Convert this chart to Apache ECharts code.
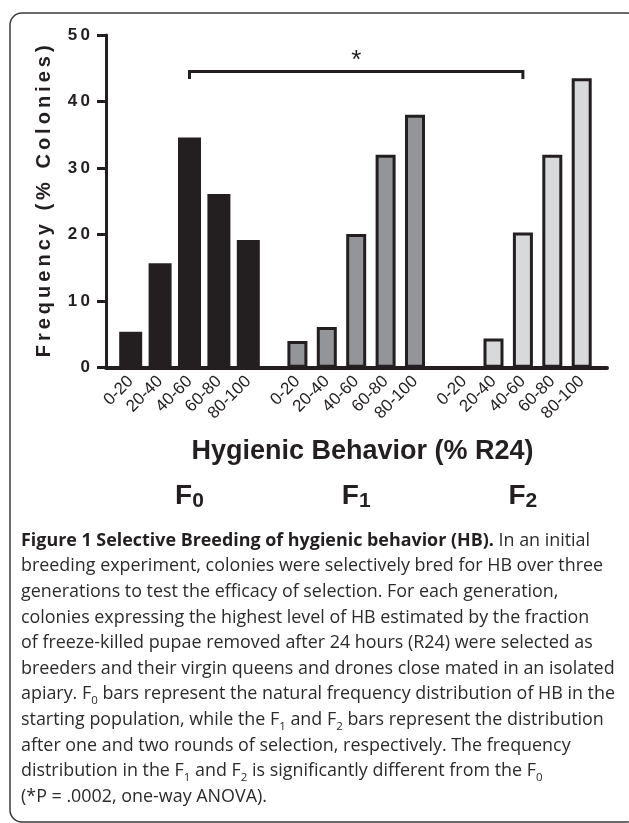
<!DOCTYPE html>
<html>
<head>
<meta charset="utf-8">
<script src="https://cdn.jsdelivr.net/npm/echarts@6/dist/echarts.min.js"></script>
<style>
html,body{margin:0;padding:0;background:#fff;overflow:hidden;}
#c{width:629px;height:823px;}
</style>
</head>
<body>
<div id="c"></div>
<script>
// ---- data ----
const categories = ['0-20', '20-40', '40-60', '60-80', '80-100'];
const generations = ['0', '1', '2'];
const f0Values = [5.4, 15.7, 34.6, 26.1, 19.2];
const f1Values = [4.0, 6.1, 20.1, 32.0, 38.0];
const f2Values = [0, 4.4, 20.3, 32.0, 43.5];
const yMin = 0, yMax = 50, yStep = 10;
const yAxisTitle = 'Frequency (% Colonies)';
const xAxisTitle = 'Hygienic Behavior (% R24)';
const bracketFrom = '40-60', bracketTo = '40-60';
const bracketLevel = 44.5, bracketFoot = 43.4;
const captionLines = [
  '{b|Figure 1 Selective Breeding of hygienic behavior (HB).} In an initial',
  'breeding experiment, colonies were selectively bred for HB over three',
  'generations to test the efficacy of selection. For each generation,',
  'colonies expressing the highest level of HB estimated by the fraction',
  'of freeze-killed pupae removed after 24 hours (R24) were selected as',
  'breeders and their virgin queens and drones close mated in an isolated',
  'apiary. F{s|0} bars represent the natural frequency distribution of HB in the',
  'starting population, while the F{s|1} and F{s|2} bars represent the distribution',
  'after one and two rounds of selection, respectively. The frequency',
  'distribution in the F{s|1} and F{s|2} is significantly different from the F{s|0}',
  '(*P = .0002, one-way ANOVA).'
];

const INK = '#231f20';
const FONT = '"Liberation Sans", Arial, sans-serif';
const CAP_FONT = '"Open Sans", "Noto Sans", sans-serif';
const spaced = s => String(s).split('').join('\u2009');

const chart = echarts.init(document.getElementById('c'), null, {renderer: 'canvas'});

const gridTop = 35, gridHeight = 332.7;
const subLefts = [116, 282.7, 449.4];
const subWidth = 147;
const seriesData = [f0Values, f1Values, f2Values];
const fills = [INK, '#939598', '#d8d9da'];

const grids = [{left: 106, top: gridTop, width: 501, height: gridHeight}];
const xAxes = [{
  gridIndex: 0, type: 'value', min: 0, max: 1,
  axisLine: {show: true, lineStyle: {color: INK, width: 4}},
  axisTick: {show: false}, axisLabel: {show: false}, splitLine: {show: false},
  name: xAxisTitle, nameLocation: 'middle', nameGap: 70,
  nameTextStyle: {fontFamily: FONT, fontWeight: 'bold', fontSize: 27, color: INK, padding: [0, 0, 0, 12]}
}];
const yAxes = [{
  gridIndex: 0, type: 'value', min: yMin, max: yMax, interval: yStep,
  axisLine: {show: true, lineStyle: {color: INK, width: 3}},
  axisTick: {show: true, inside: false, length: 9, lineStyle: {color: INK, width: 3}},
  axisLabel: {margin: 16, fontFamily: FONT, fontWeight: 'bold', fontSize: 17, color: INK,
              formatter: v => spaced(v)},
  splitLine: {show: false},
  name: spaced(yAxisTitle), nameLocation: 'middle', nameGap: 52,
  nameTextStyle: {fontFamily: FONT, fontWeight: 'bold', fontSize: 20, color: INK}
}];
const series = [];
generations.forEach((g, i) => {
  grids.push({left: subLefts[i], top: gridTop, width: subWidth, height: gridHeight});
  xAxes.push({
    gridIndex: i + 1, type: 'category', data: categories,
    axisLine: {show: false}, axisTick: {show: false},
    axisLabel: {interval: 0, rotate: 45, margin: 11, fontFamily: FONT, fontSize: 17, color: INK},
    name: '{f|F}{s|' + g + '}', nameLocation: 'middle', nameGap: 114,
    nameTextStyle: {
      rich: {
        f: {fontFamily: FONT, fontWeight: 'bold', fontSize: 28, color: INK, lineHeight: 30},
        s: {fontFamily: FONT, fontWeight: 'bold', fontSize: 21, color: INK, lineHeight: 12, verticalAlign: 'bottom'}
      }
    }
  });
  yAxes.push({gridIndex: i + 1, type: 'value', min: yMin, max: yMax, interval: yStep, show: false});
  const bordered = i > 0;
  series.push({
    type: 'bar', xAxisIndex: i + 1, yAxisIndex: i + 1,
    data: seriesData[i],
    barWidth: bordered ? 20 : 23,
    itemStyle: {color: fills[i], borderColor: INK, borderWidth: bordered ? 3 : 0},
    silent: true, animation: false
  });
});

chart.setOption({
  animation: false,
  grid: grids, xAxis: xAxes, yAxis: yAxes, series: series
});

const pA = chart.convertToPixel({xAxisIndex: 1, yAxisIndex: 1}, [categories.indexOf(bracketFrom), bracketLevel]);
const pB = chart.convertToPixel({xAxisIndex: 3, yAxisIndex: 3}, [categories.indexOf(bracketTo), bracketLevel]);
const footY = chart.convertToPixel({yAxisIndex: 1}, bracketFoot);

chart.setOption({
  graphic: [
    {type: 'rect', id: 'frame', shape: {x: 10, y: 13, width: 629, height: 809, r: 12},
     style: {fill: 'none', stroke: '#3a3a3a', lineWidth: 1.5}, silent: true},
    {type: 'polyline', id: 'bracket',
     shape: {points: [[pA[0], footY], [pA[0], pA[1]], [pB[0], pB[1]], [pB[0], footY]]},
     style: {fill: 'none', stroke: INK, lineWidth: 3}, silent: true},
    {type: 'text', id: 'star', x: (pA[0] + pB[0]) / 2, y: pA[1] - 11,
     style: {text: '*', font: '26px ' + FONT, fill: INK, align: 'center', verticalAlign: 'middle'}, silent: true},
    {type: 'text', id: 'caption', left: 21, top: 528,
     style: {
       text: captionLines.join('\n'),
       fontFamily: CAP_FONT, fontSize: 17.9, lineHeight: 25.6, fill: '#2b2b2b',
       rich: {
         b: {fontFamily: CAP_FONT, fontWeight: 'bold', fontSize: 17.9, lineHeight: 25.6, fill: INK},
         s: {fontFamily: CAP_FONT, fontSize: 11.5, lineHeight: 16, verticalAlign: 'bottom', fill: '#2b2b2b'}
       }
     }, silent: true}
  ]
});
</script>
</body>
</html>
